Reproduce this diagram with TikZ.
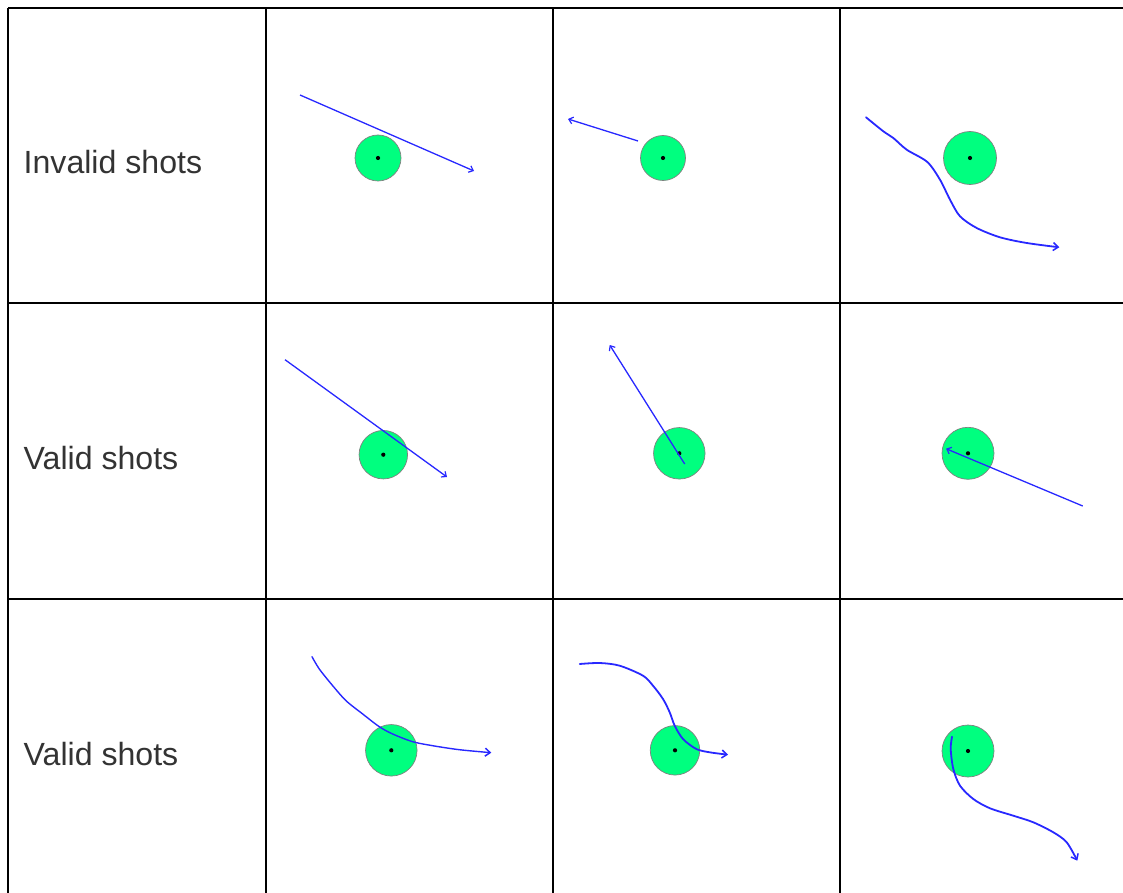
\documentclass[tikz,border=0pt]{standalone}
\usepackage{fontspec}
\setmainfont{Liberation Sans}
\usetikzlibrary{arrows.meta}
\definecolor{ballgreen}{RGB}{0,255,127}
\definecolor{shotblue}{RGB}{40,40,255}
\definecolor{labelgray}{RGB}{51,51,51}
\tikzset{
  grid/.style={line width=2.2pt, black},
  ball/.style={circle, fill=ballgreen, draw=gray, line width=0.7pt, inner sep=0pt, minimum size=#1},
  centre/.style={circle, fill=black, inner sep=0pt, minimum size=4.2pt},
  shot/.style={shotblue, line width=1.3pt, -{Straight Barb[length=4pt,width=7pt,line width=1.2pt]}},
  curveshot/.style={shotblue, line width=1.8pt, line join=round, line cap=round, -{Straight Barb[length=5pt,width=8pt,line width=1.5pt]}},
  rowlabel/.style={anchor=base west, inner sep=0pt, text=labelgray, font=\fontsize{32.1}{38}\selectfont}
}
\begin{document}
\begin{tikzpicture}[x=1pt, y=-1pt]
\useasboundingbox (0,0) rectangle (1123,893);
\clip (0,0) rectangle (1123,893);
% grid
\draw[grid] (8,8) -- (1130,8);
\draw[grid] (8,303) -- (1130,303);
\draw[grid] (8,599) -- (1130,599);
\draw[grid] (8,8) -- (8,900);
\draw[grid] (266,8) -- (266,900);
\draw[grid] (553,8) -- (553,900);
\draw[grid] (840,8) -- (840,900);
% labels
\node[rowlabel] (l1) at (23.5,173.3) {Invalid shots};
\node[rowlabel] (l2) at (23.5,469.5) {Valid shots};
\node[rowlabel] (l3) at (23.5,765.5) {Valid shots};
% row 1
\node[ball=46pt] (b12) at (378,158) {};
\node[centre] at (b12.center) {};
\coordinate (s12) at (300,95);
\coordinate (e12) at (474,171);
\draw[shot] (s12) -- (e12);

\node[ball=45pt] (b13) at (663,158) {};
\node[centre] at (b13.center) {};
\coordinate (s13) at (638,141);
\coordinate (e13) at (568,119);
\draw[shot] (s13) -- (e13);

\node[ball=53pt] (b14) at (970,158) {};
\node[centre] at (b14.center) {};
\draw[curveshot] plot[smooth, tension=0.5] coordinates {(866,117.3) (883.3,131.3) (893.3,138) (906.7,149.7) (927.3,162) (940,179.7) (950,199.7) (960,216.3) (976.7,228) (1000,237.3) (1026.7,243) (1059.3,247.3)};
% row 2
\node[ball=48.5pt] (b22) at (383.3,454.7) {};
\node[centre] at (b22.center) {};
\coordinate (s22) at (285,359.7);
\coordinate (e22) at (447,477);
\draw[shot] (s22) -- (e22);

\node[ball=51.5pt] (b23) at (679.3,453.3) {};
\node[centre] at (b23.center) {};
\coordinate (s23) at (684.7,464);
\coordinate (e23) at (609.7,345);
\draw[shot] (s23) -- (e23);

\node[ball=52pt] (b24) at (968,453.3) {};
\node[centre] at (b24.center) {};
\coordinate (s24) at (1082.7,506);
\coordinate (e24) at (946,448.7);
\draw[shot] (s24) -- (e24);
% row 3
\node[ball=51.5pt] (b32) at (391.3,750.3) {};
\node[centre] at (b32.center) {};
\draw[curveshot, line width=1.4pt] plot[smooth, tension=0.5] coordinates {(312,656.7) (319.3,669) (332.7,685.7) (346,700.7) (362.7,714) (379.3,726.7) (392.7,734) (412.7,741.7) (432.7,745.7) (459.3,749.7) (491.3,752.7)};

\node[ball=49.5pt] (b33) at (675,750.3) {};
\node[centre] at (b33.center) {};
\draw[curveshot] plot[smooth, tension=0.5] coordinates {(579.7,664) (599.7,663) (619.7,665.7) (643,675.7) (653,685.7) (663,699) (669.7,712.3) (674.7,725.7) (683,739) (696.3,749) (709.7,752.3) (728,754.7)};

\node[ball=52pt] (b34) at (968,751) {};
\node[centre] at (b34.center) {};
\draw[curveshot] plot[smooth, tension=0.5] coordinates {(952,736.7) (950.7,749) (953.3,769) (960,785.7) (973.3,799) (990,808.3) (1013.3,815.7) (1033.3,822.3) (1053.3,832.3) (1066.7,842.3) (1077.3,860.7)};
\end{tikzpicture}
\end{document}
